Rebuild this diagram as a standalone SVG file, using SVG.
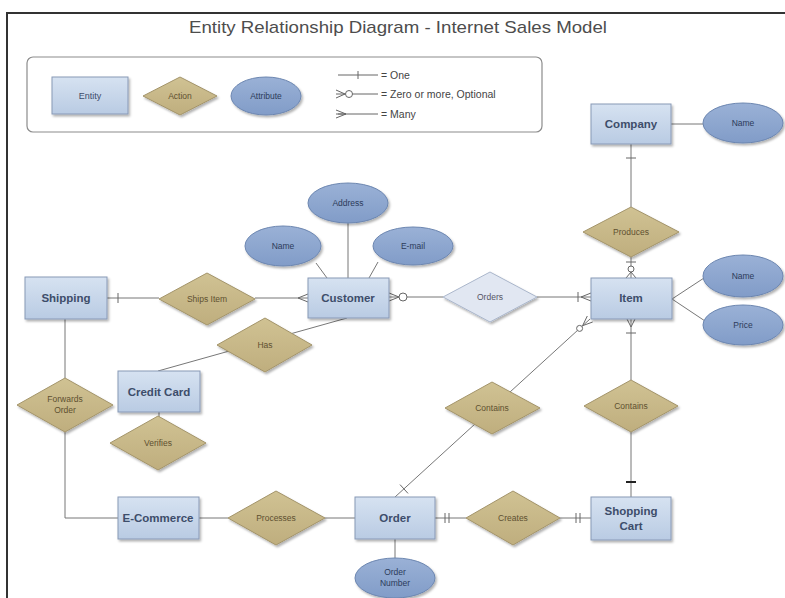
<svg xmlns="http://www.w3.org/2000/svg" width="785" height="598" viewBox="0 0 785 598">
  <defs>
    <linearGradient id="entFill" x1="0" y1="0" x2="0" y2="1">
      <stop offset="0" stop-color="#d6e2f1"/>
      <stop offset="1" stop-color="#b9cbe3"/>
    </linearGradient>
    <linearGradient id="actFill" x1="0" y1="0" x2="0" y2="1">
      <stop offset="0" stop-color="#d0c293"/>
      <stop offset="1" stop-color="#bfae7e"/>
    </linearGradient>
    <linearGradient id="attFill" x1="0" y1="0" x2="0" y2="1">
      <stop offset="0" stop-color="#9ab1d6"/>
      <stop offset="1" stop-color="#819cc8"/>
    </linearGradient>
    <filter id="shadow" x="-15%" y="-15%" width="140%" height="150%">
      <feDropShadow dx="1.5" dy="2" stdDeviation="1.2" flood-color="#000" flood-opacity="0.3"/>
    </filter>
  </defs>
  <style>
    .frame { stroke: #333; stroke-width: 2; fill: none; }
    .title { font-family: "Liberation Sans", Arial, sans-serif; font-size: 17px; fill: #4d4d4d; text-anchor: middle; }
    .legend-box { fill: #fff; stroke: #8c8c8c; stroke-width: 1.2; }
    .legend-text { font-family: "Liberation Sans", Arial, sans-serif; font-size: 10.5px; fill: #444; }
    .ent rect { fill: url(#entFill); stroke: #8899b6; stroke-width: 1; filter: url(#shadow); }
    .ent text { font-family: "Liberation Sans", Arial, sans-serif; font-size: 11.5px; font-weight: bold; fill: #3d4d6a; text-anchor: middle; }
    .act polygon { fill: url(#actFill); stroke: #a3946a; stroke-width: 1; filter: url(#shadow); }
    .act.light polygon { fill: #e1e7f2; stroke: #aab6cb; }
    .act text { font-family: "Liberation Sans", Arial, sans-serif; font-size: 8.5px; fill: #5e5030; text-anchor: middle; }
    .act.light text { fill: #556; }
    .att ellipse { fill: url(#attFill); stroke: #6c86b0; stroke-width: 1; filter: url(#shadow); }
    .att text { font-family: "Liberation Sans", Arial, sans-serif; font-size: 8.5px; fill: #2c3b5a; text-anchor: middle; }
    .ln { stroke: #777; stroke-width: 1; fill: none; }
    .sym { stroke: #666; stroke-width: 1; fill: none; }
    .ring { stroke: #666; stroke-width: 1; fill: #fff; }
  </style>

  <rect width="785" height="598" fill="#fff"/>
  <!-- page frame -->
  <path class="frame" d="M7,598 V13 H785"/>
  <text class="title" x="398" y="33" textLength="418" lengthAdjust="spacingAndGlyphs">Entity Relationship Diagram - Internet Sales Model</text>

  <!-- legend -->
  <g id="legend">
    <rect class="legend-box" x="27" y="57" width="515" height="75" rx="6"/>
    <g class="ent"><rect x="52" y="77" width="76" height="37"/><text x="90" y="99" style="font-size:9px;font-weight:normal">Entity</text></g>
    <g class="act"><polygon points="143,96 180,77 217,96 180,115"/><text x="180" y="99">Action</text></g>
    <g class="att"><ellipse cx="266" cy="96" rx="35" ry="19"/><text x="266" y="99">Attribute</text></g>
    <path class="sym" d="M338,75 H378 M358,71 V79"/>
    <text class="legend-text" x="381" y="79">= One</text>
    <path class="sym" d="M345,94 H378 M336,90 L345,94 L336,98 M336,94 H345"/>
    <circle class="ring" cx="349" cy="94" r="3.5"/>
    <text class="legend-text" x="381" y="98">= Zero or more, Optional</text>
    <path class="sym" d="M338,114 H378 M336,110 L346,114 L336,118 M336,114 H346"/>
    <text class="legend-text" x="381" y="118">= Many</text>
  </g>

  <!-- connectors -->
  <g id="connectors">
    <!-- Company -->
    <path class="ln" d="M671,124 H703"/>
    <path class="ln" d="M631,144 V207"/>
    <path class="sym" d="M626,158 H636"/>
    <!-- Produces - Item -->
    <path class="ln" d="M631,257 V278"/>
    <path class="sym" d="M626,262 H636 M631,272 L626,278 M631,272 L636,278"/>
    <circle class="ring" cx="631" cy="269" r="3"/>
    <!-- Shipping - Ships Item - Customer -->
    <path class="ln" d="M107,298 H159"/>
    <path class="sym" d="M118,293 V303"/>
    <path class="ln" d="M255,298 H308"/>
    <path class="sym" d="M298,298 L308,294 M298,298 L308,302"/>
    <!-- Customer - Orders - Item -->
    <path class="ln" d="M389,297 H443"/>
    <path class="sym" d="M399,297 L389,293 M399,297 L389,301"/>
    <circle class="ring" cx="403" cy="297" r="4"/>
    <path class="ln" d="M537,297 H591"/>
    <path class="sym" d="M578,292 V302 M581,297 L591,293 M581,297 L591,301"/>
    <!-- Item attributes -->
    <path class="ln" d="M672,299 L704,278 M672,299 L705,321"/>
    <!-- Customer attributes -->
    <path class="ln" d="M348,223 V278 M316,263 L327,278 M378,262 L369,278"/>
    <!-- Credit Card - Has - Customer -->
    <path class="ln" d="M158,371 L347,318"/>
    <!-- Shipping - Forwards Order - E-Commerce -->
    <path class="ln" d="M65,319 V378 M65,432 V518 H118"/>
    <!-- Credit Card - Verifies -->
    <path class="ln" d="M159,412 V417"/>
    <!-- E-Commerce - Processes - Order -->
    <path class="ln" d="M199,518 H228 M325,518 H355"/>
    <!-- Order - Creates - Shopping Cart -->
    <path class="ln" d="M435,518 H466 M560,518 H591"/>
    <path class="sym" d="M445,513 V523 M449,513 V523 M576,513 V523 M580,513 V523"/>
    <!-- Order - Order Number -->
    <path class="ln" d="M395,539 V558"/>
    <!-- Order - Contains - Item -->
    <path class="ln" d="M395,497 L590,319"/>
    <path class="sym" d="M400,484.6 L408,493.4 M582.6,325.7 L592.7,322 M582.6,325.7 L587.3,316"/>
    <circle class="ring" cx="579.6" cy="328.4" r="3"/>
    <!-- Item - Contains - Shopping Cart -->
    <path class="ln" d="M631,319 V380 M631,432 V497"/>
    <path class="sym" d="M631,327 L627,319 M631,327 L635,319 M626,333 H636"/>
    <rect x="626" y="481" width="10" height="2" fill="#222"/>
  </g>

  <!-- entities -->
  <g id="company" class="ent"><rect x="591" y="104" width="80" height="40"/><text x="631" y="128">Company</text></g>
  <g id="shipping" class="ent"><rect x="25" y="277" width="82" height="42"/><text x="66" y="302">Shipping</text></g>
  <g id="customer" class="ent"><rect x="308" y="278" width="81" height="40"/><text x="348" y="302">Customer</text></g>
  <g id="item" class="ent"><rect x="591" y="278" width="81" height="41"/><text x="631" y="302">Item</text></g>
  <g id="credit-card" class="ent"><rect x="118" y="371" width="82" height="41"/><text x="159" y="396">Credit Card</text></g>
  <g id="e-commerce" class="ent"><rect x="118" y="497" width="81" height="42"/><text x="158" y="522">E-Commerce</text></g>
  <g id="order" class="ent"><rect x="355" y="497" width="80" height="42"/><text x="395" y="522">Order</text></g>
  <g id="shopping-cart" class="ent"><rect x="591" y="497" width="80" height="43"/><text x="631" y="515">Shopping</text><text x="631" y="530">Cart</text></g>

  <!-- actions -->
  <g id="produces" class="act"><polygon points="583,232 631,207 679,232 631,257"/><text x="631" y="235">Produces</text></g>
  <g id="ships-item" class="act"><polygon points="159,299 207,273 255,299 207,325"/><text x="207" y="302">Ships Item</text></g>
  <g id="orders" class="act light"><polygon points="443,297 490,272 537,297 490,322"/><text x="490" y="300">Orders</text></g>
  <g id="has" class="act"><polygon points="217,345 265,318 312,345 265,372"/><text x="265" y="348">Has</text></g>
  <g id="forwards-order" class="act"><polygon points="17,405 65,378 113,405 65,432"/><text x="65" y="402">Forwards</text><text x="65" y="413">Order</text></g>
  <g id="verifies" class="act"><polygon points="110,443 158,416 206,443 158,470"/><text x="158" y="446">Verifies</text></g>
  <g id="contains-order" class="act"><polygon points="445,408 492,382 540,408 492,434"/><text x="492" y="411">Contains</text></g>
  <g id="contains-cart" class="act"><polygon points="584,406 631,380 678,406 631,432"/><text x="631" y="409">Contains</text></g>
  <g id="processes" class="act"><polygon points="228,518 276,491 325,518 276,545"/><text x="276" y="521">Processes</text></g>
  <g id="creates" class="act"><polygon points="466,518 513,491 560,518 513,545"/><text x="513" y="521">Creates</text></g>

  <!-- attributes -->
  <g id="company-name" class="att"><ellipse cx="743" cy="123" rx="40" ry="20"/><text x="743" y="126">Name</text></g>
  <g id="address" class="att"><ellipse cx="348" cy="203" rx="40" ry="20"/><text x="348" y="206">Address</text></g>
  <g id="customer-name" class="att"><ellipse cx="283" cy="246" rx="38" ry="20"/><text x="283" y="249">Name</text></g>
  <g id="email" class="att"><ellipse cx="413" cy="246" rx="40" ry="19"/><text x="413" y="249">E-mail</text></g>
  <g id="item-name" class="att"><ellipse cx="743" cy="276" rx="40" ry="21"/><text x="743" y="279">Name</text></g>
  <g id="price" class="att"><ellipse cx="743" cy="325" rx="40" ry="20"/><text x="743" y="328">Price</text></g>
  <g id="order-number" class="att"><ellipse cx="395" cy="578" rx="40" ry="20"/><text x="395" y="575">Order</text><text x="395" y="586">Number</text></g>
</svg>
